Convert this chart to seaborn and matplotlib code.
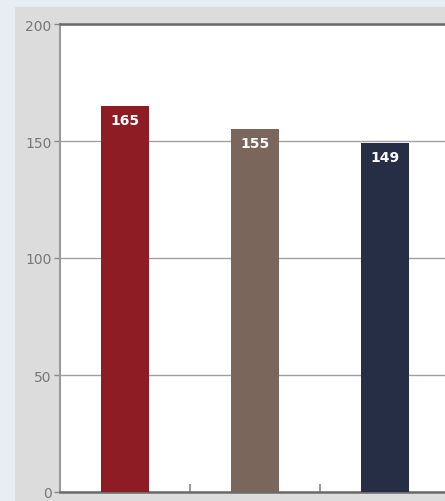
import matplotlib
matplotlib.use("Agg")
import matplotlib.pyplot as plt
import seaborn as sns
import pandas as pd
from matplotlib.patches import Rectangle

categories = ["A", "B", "C"]
values = [165, 155, 149]
colors = ["#8e1c24", "#7a665a", "#252e44"]
y_ticks = [0, 50, 100, 150, 200]

df = pd.DataFrame({"cat": categories, "val": values})

sns.set_style("white")
plt.rcParams['font.family'] = ['DejaVu Sans']

fig = plt.figure(figsize=(4.45, 5.02), dpi=100)
fig.patch.set_facecolor("#e8edf3")
# grey panel behind the chart
fig.patches.append(Rectangle((15 / 445, 0), 1, 1 - 8 / 502, transform=fig.transFigure,
                             facecolor="#dcdcdc", edgecolor="none", zorder=-5))

ax = fig.add_axes([60 / 445, 1 - 493 / 502, 1 - 60 / 445, (493 - 25) / 502])
ax.set_zorder(2)
ax.set_facecolor("white")

sns.barplot(data=df, x="cat", y="val", hue="cat", palette=colors, legend=False,
            width=0.37, saturation=1, linewidth=0, ax=ax, zorder=3)

for i, v in enumerate(values):
    ax.text(i, v - 3, str(v), ha="center", va="top", color="white",
            fontsize=10, fontweight="bold", zorder=4)

ax.set_xlim(-0.5, -0.5 + (445 - 60) / 130)
ax.set_ylim(0, 200)
ax.set_yticks(y_ticks)
ax.set_yticklabels([str(t) for t in y_ticks], color="#777777", fontsize=10)
ax.yaxis.grid(True, color="#a0a0a0", linewidth=1, zorder=1)
ax.set_axisbelow(True)

ax.set_xticks([0.5, 1.5])
ax.set_xticklabels([])
ax.tick_params(axis="x", bottom=True, direction="in", length=6, color="#888888", width=1.2)
ax.tick_params(axis="y", left=True, direction="out", length=4, color="#888888", width=1, pad=2)

ax.set_xlabel("")
ax.set_ylabel("")

for side in ["top", "bottom"]:
    ax.spines[side].set_color("#6a6a6a")
    ax.spines[side].set_linewidth(1.8)
ax.spines["left"].set_color("#9a9a9a")
ax.spines["left"].set_linewidth(1.5)
ax.spines["right"].set_visible(False)

fig.savefig("out.png", dpi=100, facecolor=fig.get_facecolor())
